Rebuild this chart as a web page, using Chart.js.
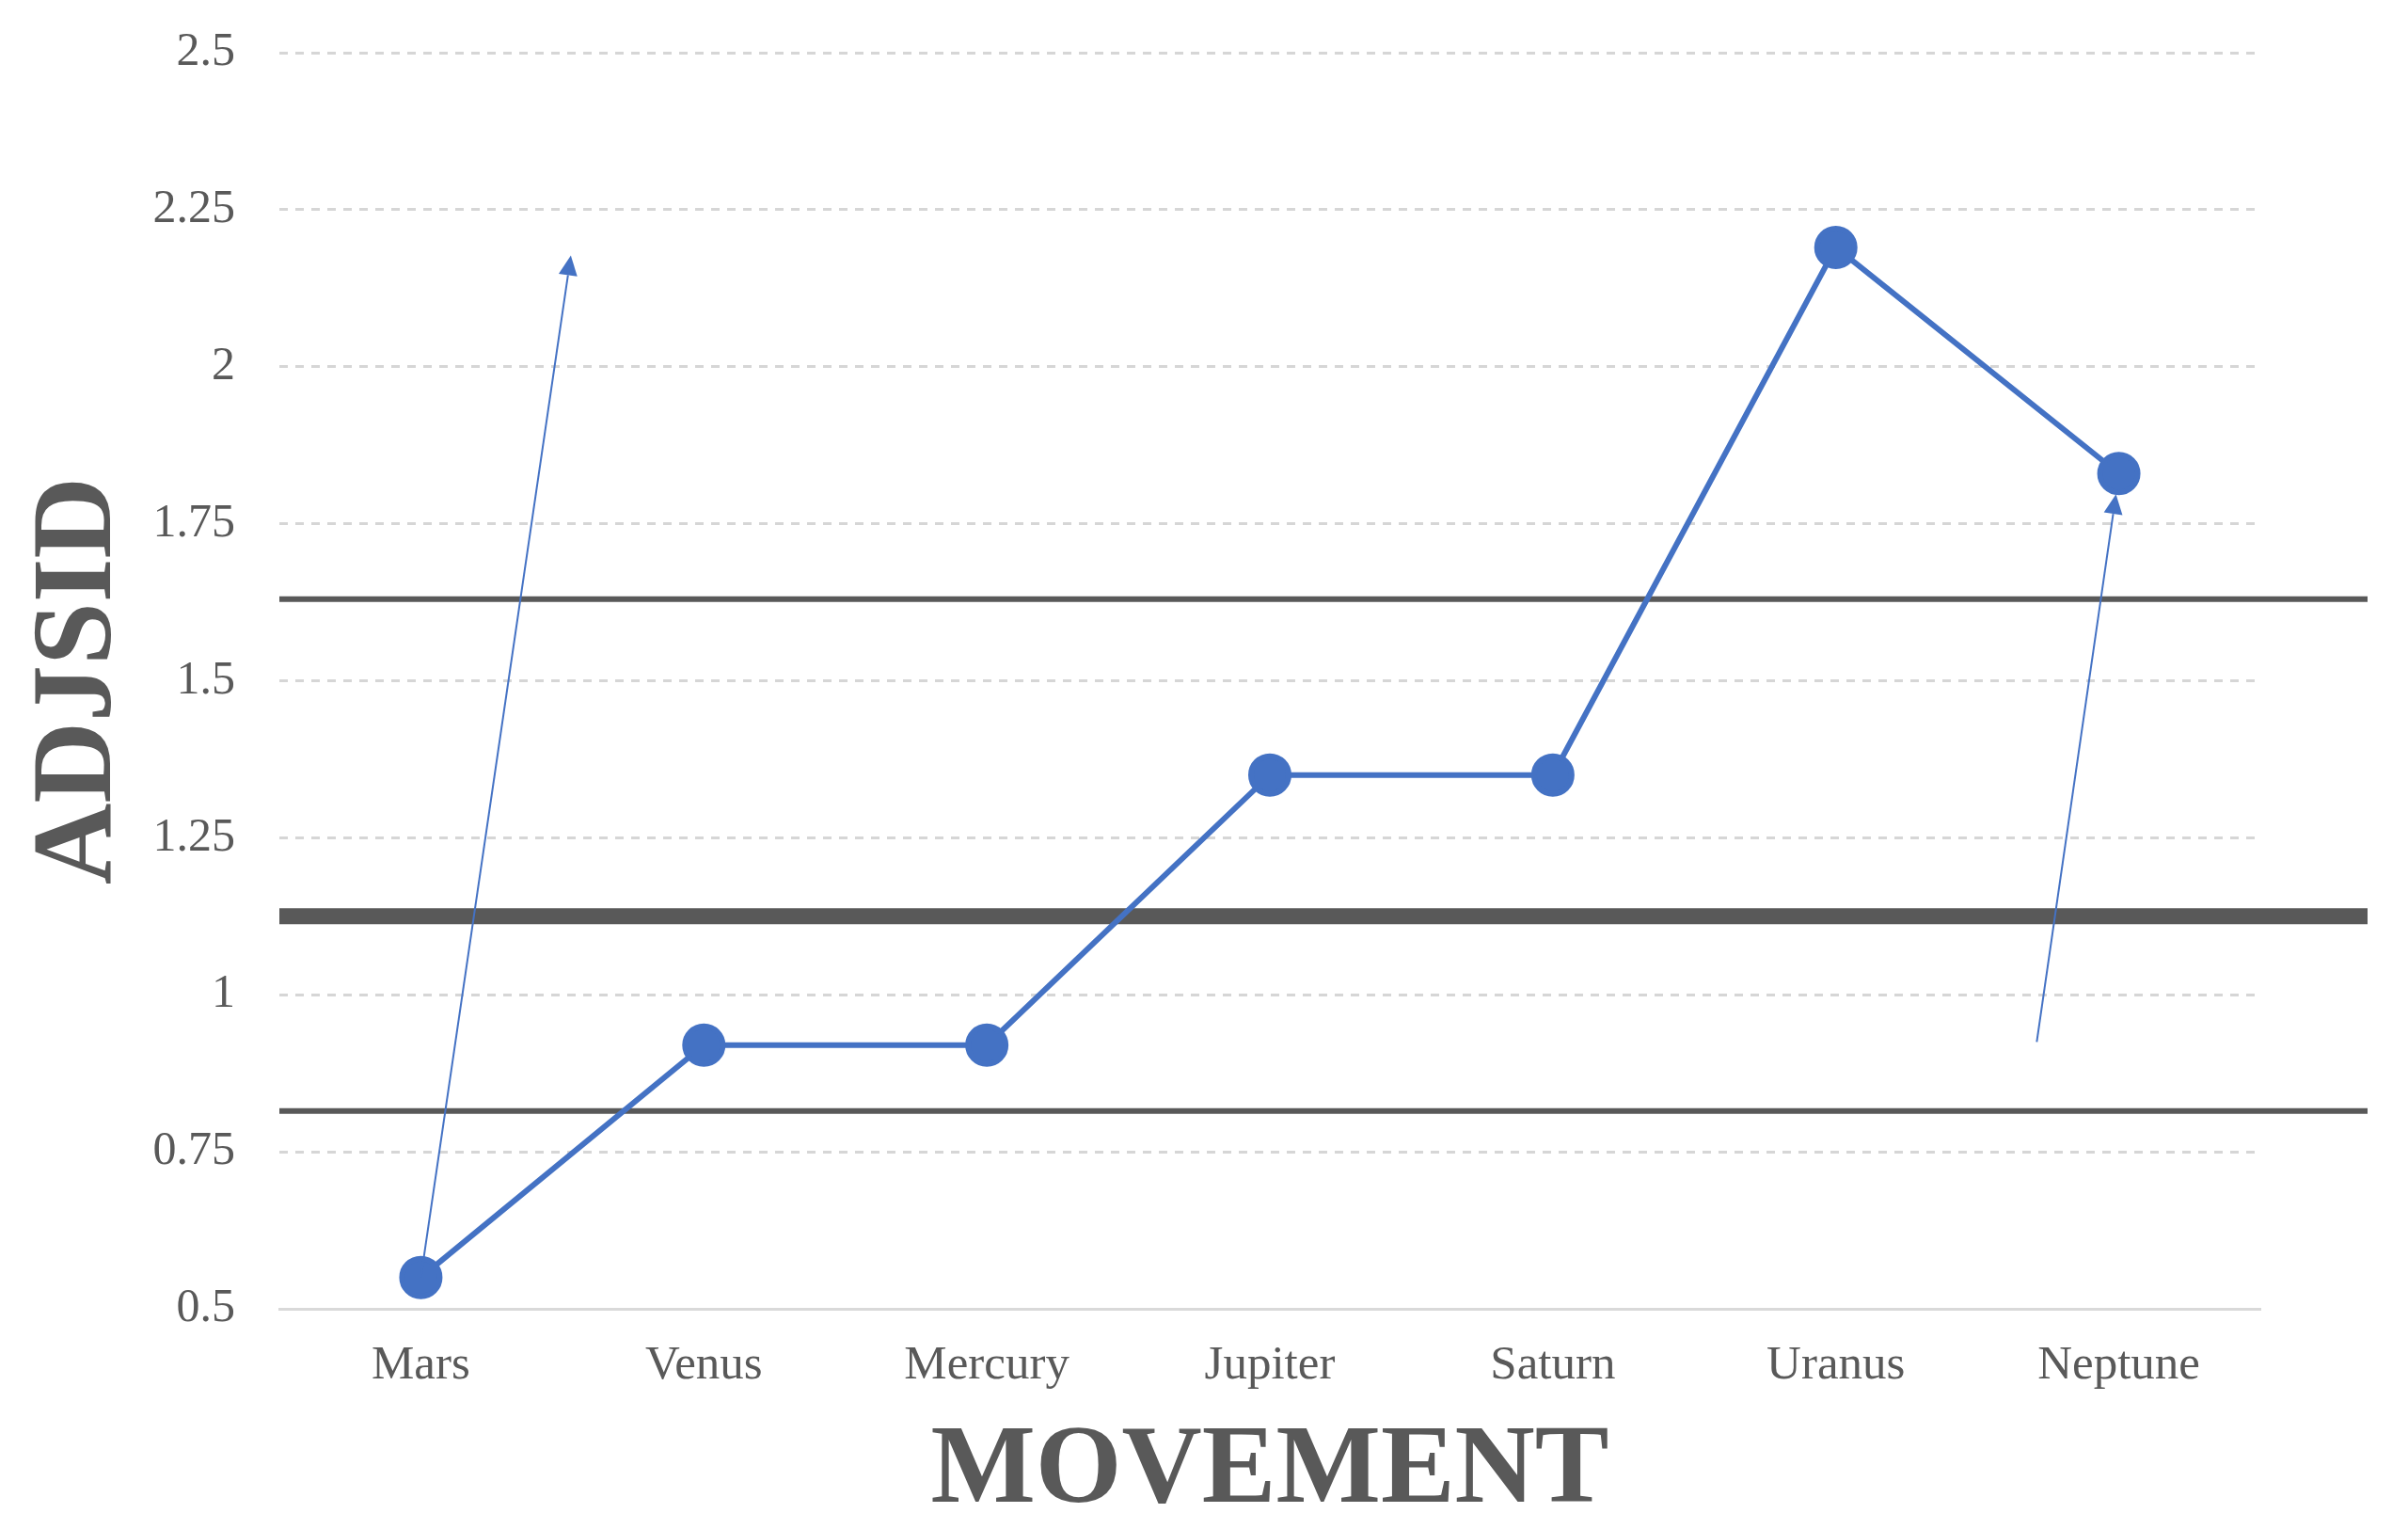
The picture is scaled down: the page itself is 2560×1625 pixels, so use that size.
<!DOCTYPE html>
<html>
<head>
<meta charset="utf-8">
<script src="https://cdn.jsdelivr.net/npm/chart.js@4.4.1/dist/chart.umd.min.js"></script>
<style>
  html, body { margin: 0; padding: 0; background: #fff; }
  #wrap { width: 2560px; height: 1625px; }
</style>
</head>
<body>
<div id="wrap"><canvas id="chart" width="2560" height="1625"></canvas></div>
<script>
// chart data
const planets = ["Mars", "Venus", "Mercury", "Jupiter", "Saturn", "Uranus", "Neptune"];
const adjsid = [0.55, 0.92, 0.92, 1.35, 1.35, 2.19, 1.83];
const yTicks = [0.5, 0.75, 1, 1.25, 1.5, 1.75, 2, 2.25, 2.5];
const yTickLabels = ["0.5", "0.75", "1", "1.25", "1.5", "1.75", "2", "2.25", "2.5"];

// horizontal reference lines (value, thickness)
const refLineValues = [1.63, 1.125, 0.815];
const refLineWidths = [6, 17, 6];

// arrows: [index, value] from -> to
const arrowFrom = [[0, 0.55], [5.71, 0.925]];
const arrowTo = [[0.53, 2.177], [5.99, 1.797]];

const blue = "#4472C4";
const grey = "#595959";
const serif = "'Liberation Serif', 'Times New Roman', serif";

// dark horizontal lines under the series
const refLinesPlugin = {
  id: "refLines",
  beforeDatasetsDraw(chart) {
    const { ctx, chartArea, scales } = chart;
    ctx.save();
    ctx.strokeStyle = grey;
    refLineValues.forEach((v, i) => {
      const y = scales.y.getPixelForValue(v);
      ctx.lineWidth = refLineWidths[i];
      ctx.beginPath();
      ctx.moveTo(chartArea.left, y);
      ctx.lineTo(chartArea.right + 114, y);
      ctx.stroke();
    });
    ctx.restore();
  }
};

// thin arrows with triangular heads
const arrowsPlugin = {
  id: "arrows",
  afterDatasetsDraw(chart) {
    const { ctx, scales } = chart;
    ctx.save();
    ctx.strokeStyle = blue;
    ctx.fillStyle = blue;
    ctx.lineWidth = 2;
    arrowFrom.forEach((from, i) => {
      const to = arrowTo[i];
      const x1 = scales.x.getPixelForValue(from[0]);
      const y1 = scales.y.getPixelForValue(from[1]);
      const x2 = scales.x.getPixelForValue(to[0]);
      const y2 = scales.y.getPixelForValue(to[1]);
      const ang = Math.atan2(y2 - y1, x2 - x1);
      const headLen = 21, headHalf = 10;
      const bx = x2 - headLen * Math.cos(ang);
      const by = y2 - headLen * Math.sin(ang);
      ctx.beginPath();
      ctx.moveTo(x1, y1);
      ctx.lineTo(bx, by);
      ctx.stroke();
      ctx.beginPath();
      ctx.moveTo(x2, y2);
      ctx.lineTo(bx + headHalf * Math.sin(ang), by - headHalf * Math.cos(ang));
      ctx.lineTo(bx - headHalf * Math.sin(ang), by + headHalf * Math.cos(ang));
      ctx.closePath();
      ctx.fill();
    });
    ctx.restore();
  }
};

new Chart(document.getElementById("chart"), {
  type: "line",
  data: {
    labels: planets,
    datasets: [{
      data: adjsid,
      borderColor: blue,
      backgroundColor: blue,
      borderWidth: 6,
      pointRadius: 20,
      pointHoverRadius: 20,
      pointBackgroundColor: blue,
      pointBorderColor: blue,
      tension: 0
    }]
  },
  options: {
    responsive: false,
    animation: false,
    layout: { padding: { top: 56, right: 157, bottom: 0, left: 0 } },
    plugins: {
      legend: { display: false },
      tooltip: { enabled: false }
    },
    scales: {
      x: {
        offset: true,
        afterFit(scale) {
          scale.height = 234;
          scale.paddingLeft = 0;
          scale.paddingRight = 0;
        },
        grid: { display: false, drawTicks: false },
        border: { display: true, color: "#d9d9d9", width: 3 },
        ticks: {
          color: grey,
          padding: 30,
          font: { family: serif, size: 51 }
        },
        title: {
          display: true,
          text: "MOVEMENT",
          color: grey,
          padding: { top: 0, bottom: 0 },
          font: { family: serif, size: 118, weight: "bold", lineHeight: 1.0 }
        }
      },
      y: {
        min: 0.5,
        max: 2.5,
        afterBuildTicks(scale) {
          scale.ticks = yTicks.map(v => ({ value: v }));
        },
        afterFit(scale) {
          scale.width = 297;
          scale.paddingTop = 0;
          scale.paddingBottom = 0;
        },
        grid: {
          color: "#d6d6d6",
          lineWidth: 3,
          drawTicks: false
        },
        border: { display: false, dash: [9, 8] },
        ticks: {
          color: grey,
          padding: 47,
          font: { family: serif, size: 50 },
          callback: (v, i) => yTickLabels[i]
        },
        title: {
          display: true,
          text: "ADJSID",
          color: grey,
          padding: { top: 14, bottom: 0 },
          font: { family: serif, size: 120, weight: "bold", lineHeight: 1.2 }
        }
      }
    }
  },
  plugins: [refLinesPlugin, arrowsPlugin]
});
</script>
</body>
</html>
